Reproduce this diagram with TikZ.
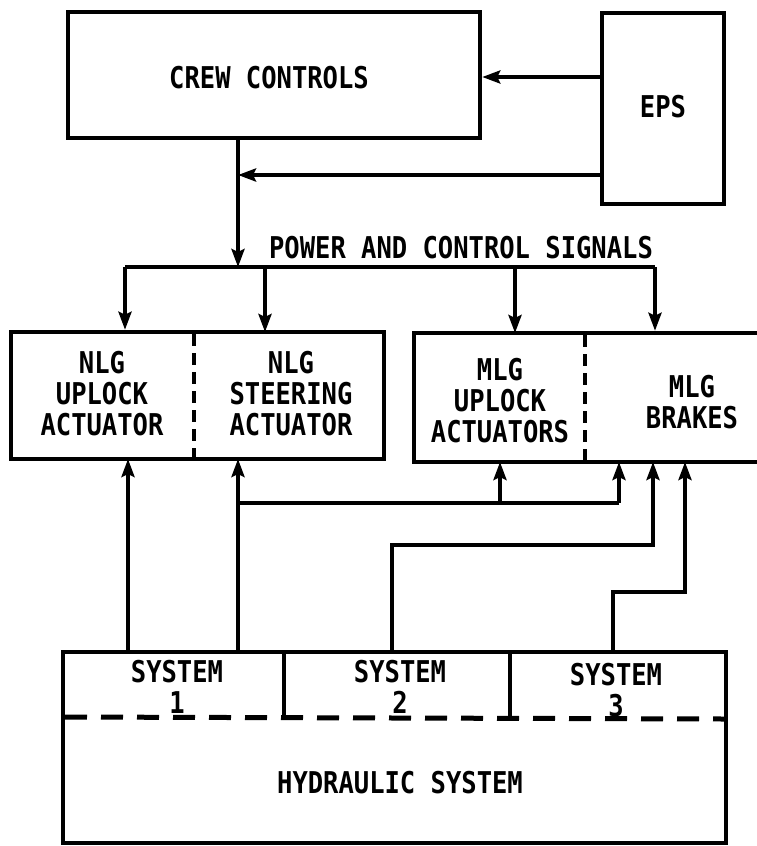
\documentclass[tikz,border=0pt]{standalone}
\usepackage{fontspec}
\newfontfamily\lbl[FakeStretch=0.85]{DejaVu Sans Mono}
\usetikzlibrary{arrows.meta}
\begin{document}
\begin{tikzpicture}[x=1pt,y=-1pt,
  box/.style={draw,line width=4.5pt,inner sep=0pt},
  txt/.style={font=\lbl\bfseries\fontsize{30}{31}\selectfont,align=center,inner sep=0pt},
  conn/.style={line width=4pt},
  arr/.style={conn,-{Stealth[length=18pt,width=13pt,inset=3pt]}},
  divider/.style={line width=4pt,dash pattern=on 12pt off 7pt},
  sysdash/.style={line width=5pt,dash pattern=on 22pt off 14pt}]
\clip (0,0) rectangle (757,846);
% boxes
\node[box,minimum width=412pt,minimum height=126pt] (crew) at (274,75) {};
\node[box,minimum width=122pt,minimum height=191pt] (eps) at (663,108.5) {};
\node[box,minimum width=373pt,minimum height=127pt] (nlg) at (197.5,395.5) {};
\node[box,minimum width=361pt,minimum height=129pt] (mlg) at (594.5,397.5) {};
\node[box,minimum width=663pt,minimum height=191pt] (hyd) at (394.5,747.5) {};
% dividers
\draw[divider] (194,334) -- (194,457);
\draw[divider] (585,335) -- (585,460);
\draw[sysdash] (65,717) -- (724,719);
\draw[line width=3.5pt] (284,654) -- (284,717);
\draw[line width=3.5pt] (510,654) -- (510,717);
% texts
\node[txt] (tcrew) at (269,78) {CREW CONTROLS};
\node[txt] (teps) at (663,107) {EPS};
\node[txt] (tpow) at (461,248) {POWER AND CONTROL SIGNALS};
\node[txt] (tnlgu) at (102,394) {NLG\\UPLOCK\\ACTUATOR};
\node[txt] (tnlgs) at (291,394) {NLG\\STEERING\\ACTUATOR};
\node[txt] (tmlgu) at (500,401) {MLG\\UPLOCK\\ACTUATORS};
\node[txt] (tmlgb) at (692,402) {MLG\\BRAKES};
\node[txt] (ts1) at (177,687) {SYSTEM\\1};
\node[txt] (ts2) at (400,687) {SYSTEM\\2};
\node[txt] (ts3) at (616,690) {SYSTEM\\3};
\node[txt] (thyd) at (400,783) {HYDRAULIC SYSTEM};
% coordinates
\coordinate (j1) at (238,175);
\coordinate (bus) at (238,267);
\coordinate (bl) at (125,267);
\coordinate (br) at (655,267);
\coordinate (hb) at (238,503);
\coordinate (hbr) at (619,503);
\coordinate (s2a) at (392,545);
\coordinate (s2b) at (653,545);
\coordinate (s3a) at (613,592);
\coordinate (s3b) at (685,592);
% connectors top
\draw[arr] (eps.west |- 0,77) -- (crew.east |- 0,77);
\draw[arr] (eps.west |- j1) -- (j1);
\draw[arr] (crew.south -| bus) -- (bus);
\draw[conn] (bl) -- (br);
\draw[arr] (bl) -- (bl |- nlg.north);
\draw[arr] (265,267) -- (265,332);
\draw[arr] (515,267) -- (515,333);
\draw[arr] (br) -- (br |- mlg.north);
% connectors bottom
\draw[arr] (128,652) -- (128,459);
\draw[arr] (238,652) -- (238,459);
\draw[conn] (hb) -- (hbr);
\draw[arr] (500,503) -- (500,462);
\draw[arr] (hbr) -- (619,462);
\draw[arr] (392,652) -- (s2a) -- (s2b) -- (653,462);
\draw[arr] (613,652) -- (s3a) -- (s3b) -- (685,462);
\end{tikzpicture}
\end{document}
